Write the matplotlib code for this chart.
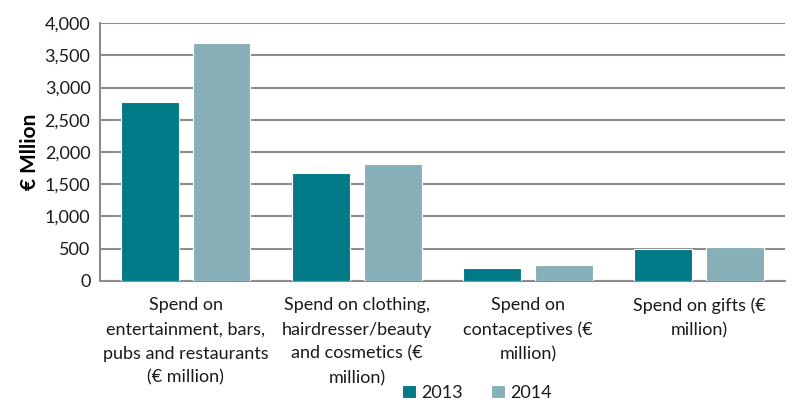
import matplotlib
matplotlib.use("Agg")
import matplotlib.pyplot as plt
import numpy as np

categories = [
    "Spend on\nentertainment, bars,\npubs and restaurants\n(€ million)",
    "Spend on clothing,\nhairdresser/beauty\nand cosmetics (€\nmillion)",
    "Spend on\ncontaceptives (€\nmillion)",
    "Spend on gifts (€\nmillion)",
]
years = ["2013", "2014"]
values_2013 = [2770, 1670, 197, 495]
values_2014 = [3700, 1812, 243, 527]
y_ticks = [0, 500, 1000, 1500, 2000, 2500, 3000, 3500, 4000]

colors = ["#007A87", "#87AFB8"]
grid_color = "#8C8C8C"
text_color = "#1A1A1A"

plt.rcParams["font.family"] = ["Lato", "DejaVu Sans"]

fig = plt.figure(figsize=(7.95, 4.07), dpi=100)
ax = fig.add_axes([0.126, 0.31, 0.861, 0.633])

x = np.arange(len(categories))
width = 0.336
offset = 0.21
for i, (vals, col, lab) in enumerate(zip([values_2013, values_2014], colors, years)):
    ax.bar(x + (i * 2 - 1) * offset, vals, width, color=col, label=lab,
           edgecolor="white", linewidth=0.8, zorder=3)

ax.set_xlim(-0.5, len(categories) - 0.5)
ax.set_ylim(0, 4000)
ax.set_yticks(y_ticks)
ax.set_yticklabels([f"{v:,}" for v in y_ticks], fontsize=13, color=text_color)
ax.set_xticks(x)
ax.set_xticklabels(categories, fontsize=13, color=text_color, linespacing=1.62)
ax.tick_params(axis="both", length=0)
ax.tick_params(axis="x", pad=12)
ax.tick_params(axis="y", pad=7)

ax.yaxis.grid(True, color=grid_color, linewidth=1.5, zorder=0)
for side in ["top", "right"]:
    ax.spines[side].set_visible(False)
for side in ["left", "bottom"]:
    ax.spines[side].set_color(grid_color)
    ax.spines[side].set_linewidth(1.5)

ax.set_ylabel("€ Mllion", fontsize=15, fontweight="bold", color="black", labelpad=3)

fig.legend(loc="lower center", bbox_to_anchor=(0.6, -0.025), ncol=2, frameon=False,
           fontsize=13, handlelength=0.75, handleheight=0.75, handletextpad=0.3,
           columnspacing=1.6, labelcolor=text_color)

fig.savefig("out.png", dpi=100)
